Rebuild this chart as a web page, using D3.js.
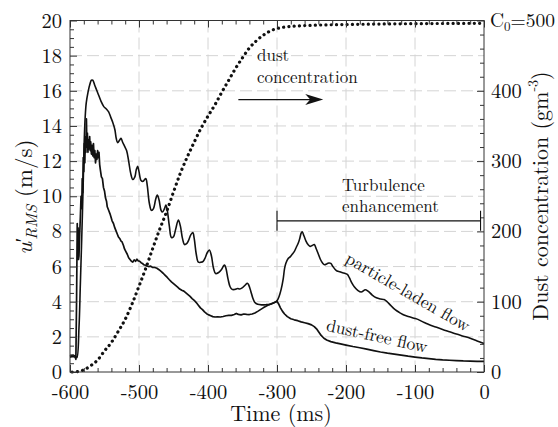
<!DOCTYPE html>
<html><head><meta charset="utf-8">
<script src="https://cdn.jsdelivr.net/npm/d3@7"></script>
<style>
body{margin:0;background:#fff}
svg{display:block}
</style>
</head><body>
<svg id="c" width="558" height="427"></svg>
<script>
// ---------- data ----------
const xTicks = [-600,-500,-400,-300,-200,-100,0];
const yTicks = [0,2,4,6,8,10,12,14,16,18,20];
const cTicks = [0,100,200,300,400];
const cTopLabel = "500";

// particle-laden flow: [time ms, u' m/s]
const particleLaden = [
[-600,0.9],[-596,0.95],[-592,0.9],[-590,0.82],[-587,2.5],[-585,5.0],[-583,7.6],[-581,10.5],[-579.5,13.0],
[-578,14.5],[-576.5,15.3],[-574,15.9],[-571,16.4],[-569,16.6],[-567,16.6],[-564,16.3],[-561,16.0],[-558,15.7],
[-555,15.4],[-551,15.1],[-547,14.95],[-544,14.8],[-541,14.5],[-538,14.2],[-535,13.8],[-533,13.3],[-531,13.05],
[-528,13.2],[-526,13.3],[-524,13.1],[-521,12.85],[-518,12.6],[-515,12.0],[-512,11.3],[-509,10.95],[-506,11.1],
[-504,11.5],[-502,11.7],[-500,11.4],[-497,10.9],[-494,10.85],[-492,10.95],[-490,11.0],[-488,10.6],[-485,9.6],
[-482,9.2],[-479,9.3],[-476,9.8],[-473.5,10.07],[-471,9.8],[-468,9.2],[-466,9.1],[-463,9.3],[-461,9.5],[-459,9.2],
[-456,8.3],[-453,7.65],[-450,7.7],[-447,8.1],[-443,8.65],[-440,8.3],[-437,7.6],[-434,7.25],[-431,7.3],[-428,7.5],
[-425,7.8],[-422,7.93],[-420,7.6],[-417,6.7],[-414,6.25],[-410,6.25],[-407,6.3],[-404,6.5],[-401,6.8],[-398,6.94],
[-395,6.6],[-392,5.9],[-389,5.6],[-385,5.65],[-381,5.8],[-378,6.0],[-376,6.09],[-374,5.9],[-371,5.3],[-368,4.85],
[-365,4.7],[-361,4.7],[-357,4.75],[-354,4.72],[-350,4.8],[-346,4.95],[-343,5.05],[-341,4.95],[-338,4.6],[-335,4.2],
[-332,3.95],[-328,3.85],[-322,3.82],[-316,3.83],[-310,3.86],[-305,3.93],[-302,3.98],[-300,4.05],[-297,4.3],
[-294,4.7],[-291,5.3],[-289,5.9],[-287,6.2],[-284,6.45],[-281,6.55],[-278,6.7],[-275,6.85],[-272,7.1],[-269,7.35],
[-267,7.6],[-265,7.9],[-263.5,7.98],[-261,7.75],[-258,7.45],[-255,7.25],[-252,7.15],[-249,7.2],[-246,7.25],
[-243,7.0],[-240,6.7],[-237,6.4],[-234,6.2],[-231,6.1],[-228,6.15],[-225,6.2],[-222,6.18],[-219,6.0],[-216,5.85],
[-213,5.75],[-209,5.7],[-205,5.65],[-201,5.6],[-198,5.55],[-195,5.35],[-192,5.1],[-188,4.85],[-183,4.65],
[-178,4.55],[-172,4.68],[-168,4.6],[-162,4.38],[-156,4.22],[-150,4.15],[-145,4.12],[-141,4.02],[-136,3.82],
[-131,3.62],[-126,3.47],[-121,3.35],[-116,3.24],[-111,3.17],[-106,3.12],[-100,3.05],[-95,2.98],[-90,2.88],
[-85,2.79],[-80,2.7],[-70,2.56],[-60,2.42],[-50,2.29],[-40,2.16],[-30,2.04],[-20,1.92],[-10,1.77],[0,1.62]
];

// dust-free flow: [time ms, u' m/s]
const dustFree = [
[-600,0.85],[-596,0.88],[-592.5,0.85],[-591.5,0.72],[-590.5,4.0],[-589.5,8.45],[-589,7.0],[-588.3,8.2],[-587.7,6.4],
[-587,6.6],[-586,7.8],[-585,8.8],[-584,10.0],[-583,9.3],[-582.3,11.0],[-581.5,10.2],[-580.8,12.2],[-580,11.4],
[-579.3,13.0],[-578.5,11.9],[-577.8,13.4],[-577,12.5],[-576.2,14.4],[-575.5,12.8],[-574.8,13.6],[-574,12.5],
[-573.2,13.2],[-572.5,12.7],[-571.5,13.4],[-570.7,12.6],[-570,13.1],[-569,12.4],[-568,12.9],[-567,12.3],[-566,13.0],
[-565,12.2],[-564,12.6],[-563,11.9],[-562,12.4],[-561,12.1],[-560,12.6],[-559,12.2],[-558,12.5],[-557,11.8],
[-556,11.5],[-554.5,11.1],[-553,11.0],[-551.5,10.5],[-550,10.3],[-548.5,9.9],[-547,9.7],[-546,9.4],[-544,9.2],
[-542,9.0],[-540.5,8.8],[-539,8.6],[-537,8.45],[-535,8.2],[-533,8.0],[-531.5,7.85],[-530,7.7],[-528,7.6],
[-526,7.45],[-524.5,7.4],[-522.5,7.2],[-521,7.0],[-519,6.85],[-517,6.7],[-515,6.5],[-513,6.4],[-511,6.3],
[-509,6.25],[-507,6.38],[-505,6.3],[-503,6.42],[-501,6.32],[-499,6.3],[-497,6.22],[-495,6.18],[-493,6.1],
[-491,6.08],[-489,6.03],[-486,6.0],[-483,6.02],[-480,5.95],[-477,5.95],[-474,5.9],[-471,5.82],[-468,5.72],
[-465,5.62],[-462,5.5],[-459,5.38],[-456,5.25],[-453,5.13],[-450,5.03],[-447,4.93],[-444,4.83],[-441,4.72],
[-438,4.65],[-435,4.6],[-432,4.5],[-429,4.4],[-426,4.3],[-423,4.18],[-420,4.08],[-417,3.95],[-414,3.8],
[-411,3.65],[-408,3.55],[-405,3.42],[-402,3.32],[-399,3.25],[-396,3.2],[-393,3.15],[-390,3.13],[-386,3.14],
[-382,3.13],[-378,3.16],[-374,3.2],[-370,3.22],[-366,3.22],[-362,3.27],[-359,3.33],[-356,3.28],[-352,3.25],
[-348,3.3],[-344,3.28],[-340,3.27],[-336,3.3],[-332,3.36],[-328,3.45],[-324,3.55],[-320,3.65],[-316,3.74],
[-312,3.82],[-308,3.88],[-304,3.95],[-300,4.02],[-298,3.9],[-295,3.65],[-292,3.45],[-289,3.3],[-285,3.15],
[-280,3.03],[-275,2.97],[-270,2.92],[-265,2.85],[-260,2.8],[-255,2.75],[-250,2.68],[-246,2.58],[-242,2.42],
[-239,2.25],[-236,2.08],[-232,1.92],[-228,1.82],[-222,1.73],[-215,1.66],[-208,1.6],[-200,1.53],[-190,1.45],
[-180,1.38],[-170,1.3],[-160,1.22],[-150,1.14],[-140,1.07],[-130,1.02],[-120,0.96],[-110,0.9],[-100,0.85],
[-90,0.8],[-80,0.76],[-70,0.72],[-60,0.69],[-50,0.67],[-40,0.65],[-30,0.63],[-20,0.62],[-10,0.61],[0,0.6]
];

// dust concentration: [time ms, g/m^3]
const dustConc = [
[-597,0],[-590,0.5],[-580,3],[-570,9],[-560,17],[-550,30],[-540,42],[-530,58],[-520,75],[-510,97],[-500,122],
[-490,148],[-480,176],[-470,203],[-460,228],[-450,256],[-440,283],[-430,306],[-420,327],[-410,347],[-400,364],
[-390,380],[-380,398],[-370,415],[-360,432],[-350,447],[-340,461],[-330,471],[-320,479],[-310,485],[-300,488.5],
[-290,490.5],[-270,492.3],[-250,493.2],[-200,494.3],[-150,495],[-100,495.5],[-50,495.8],[-2,496]
];

// ---------- layout ----------
const FONT = '"Latin Modern Roman"';
const L = 70, R = 484, T = 20.5, B = 372;
const svg = d3.select("#c");
const x = d3.scaleLinear().domain([-600,0]).range([L,R]);
const y = d3.scaleLinear().domain([0,20]).range([B,T]);
const yC = d3.scaleLinear().domain([0,500]).range([B,T]);

function txt(sel){ return sel.style("font-family", FONT).attr("fill","#111"); }

// grid
const grid = svg.append("g").attr("stroke","#d4d4d4").attr("stroke-width",1).attr("stroke-dasharray","12,5");
xTicks.slice(1,-1).forEach(t=>grid.append("line").attr("x1",x(t)).attr("x2",x(t)).attr("y1",T).attr("y2",B));
yTicks.slice(1,-1).forEach(v=>grid.append("line").attr("x1",L).attr("x2",R).attr("y1",y(v)).attr("y2",y(v)));

// curves
svg.append("path").datum(dustConc)
  .attr("d", d3.line().x(d=>x(d[0])).y(d=>yC(d[1])).curve(d3.curveMonotoneX))
  .attr("fill","none").attr("stroke","#111").attr("stroke-width",3.2)
  .attr("stroke-linecap","round").attr("stroke-dasharray","0.1,5.2");

svg.append("path").datum(dustFree)
  .attr("d", d3.line().x(d=>x(d[0])).y(d=>y(d[1])))
  .attr("fill","none").attr("stroke","#111").attr("stroke-width",1.7).attr("stroke-linejoin","round");

svg.append("path").datum(particleLaden)
  .attr("d", d3.line().x(d=>x(d[0])).y(d=>y(d[1])).curve(d3.curveCatmullRom.alpha(0.5)))
  .attr("fill","none").attr("stroke","#111").attr("stroke-width",1.6).attr("stroke-linejoin","round");

// axes
function styleAxis(g){ g.select(".domain").remove(); g.selectAll("line").attr("stroke","#333");
  g.selectAll("text").style("font-family", FONT).attr("font-size",20.5).attr("fill","#111"); }

const minorX = d3.range(-600,1,20).filter(v=>v%100!==0);
const minorY = d3.range(0,20.01,0.5).filter(v=>v%2!==0);
const minorC = d3.range(0,501,20).filter(v=>v%100!==0);

svg.append("g").attr("transform",`translate(0,${B})`)
  .call(d3.axisBottom(x).tickValues(xTicks).tickSize(-7).tickPadding(12).tickFormat(d=>String(d))).call(styleAxis);
svg.append("g").attr("transform",`translate(0,${B})`)
  .call(d3.axisBottom(x).tickValues(minorX).tickSize(-4).tickFormat(()=>"")).call(styleAxis);
svg.append("g").attr("transform",`translate(0,${T})`)
  .call(d3.axisTop(x).tickValues(xTicks).tickSize(-7).tickFormat(()=>"")).call(styleAxis);
svg.append("g").attr("transform",`translate(0,${T})`)
  .call(d3.axisTop(x).tickValues(minorX).tickSize(-4).tickFormat(()=>"")).call(styleAxis);

svg.append("g").attr("transform",`translate(${L},0)`)
  .call(d3.axisLeft(y).tickValues(yTicks).tickSize(-7).tickPadding(8).tickFormat(d=>String(d))).call(styleAxis);
svg.append("g").attr("transform",`translate(${L},0)`)
  .call(d3.axisLeft(y).tickValues(minorY).tickSize(-4).tickFormat(()=>"")).call(styleAxis);

svg.append("g").attr("transform",`translate(${R},0)`)
  .call(d3.axisRight(yC).tickValues(cTicks.concat([500])).tickSize(-7).tickPadding(7)
    .tickFormat(d=>d===500?"":String(d))).call(styleAxis);
svg.append("g").attr("transform",`translate(${R},0)`)
  .call(d3.axisRight(yC).tickValues(minorC).tickSize(-4).tickFormat(()=>"")).call(styleAxis);

// frame
svg.append("rect").attr("x",L).attr("y",T).attr("width",R-L).attr("height",B-T)
  .attr("fill","none").attr("stroke","#333").attr("stroke-width",1);

// C0=500 label
const c0 = txt(svg.append("text")).attr("x",R+6).attr("y",yC(500)).attr("dy","0.32em").attr("font-size",19.5);
c0.append("tspan").text("C");
c0.append("tspan").attr("font-size",13).attr("dy",4).text("0");
c0.append("tspan").attr("dy",-4).text("=" + cTopLabel);

// axis titles
txt(svg.append("text")).attr("x",(L+R)/2+4).attr("y",421).attr("text-anchor","middle").attr("font-size",22).text("Time (ms)");

const yl = txt(svg.append("text")).attr("transform","translate(32,197) rotate(-90)").attr("text-anchor","middle").attr("font-size",23);
yl.append("tspan").attr("font-style","italic").text("u");
yl.append("tspan").style("font-family",'"Liberation Serif"').attr("font-size",20).attr("dy",-2).text("′");
yl.append("tspan").attr("font-style","italic").attr("font-size",16).attr("dy",7).attr("dx",-2).text("RMS");
yl.append("tspan").attr("dy",-5).text(" (m/s)");

const yr = txt(svg.append("text")).attr("transform","translate(548,196) rotate(-90)").attr("text-anchor","middle").attr("font-size",22);
yr.append("tspan").text("Dust concentration (gm");
yr.append("tspan").attr("font-size",14).attr("dy",-10).text("-3");
yr.append("tspan").attr("dy",10).text(")");

// annotations
txt(svg.append("text")).attr("font-size",17).attr("x",257).attr("y",61).text("dust");
txt(svg.append("text")).attr("font-size",17).attr("x",257).attr("y",83).text("concentration");
const ay = y(15.5);
const ax = x(-233);
svg.append("line").attr("x1",x(-356)).attr("x2",ax-12).attr("y1",ay).attr("y2",ay).attr("stroke","#111").attr("stroke-width",1.3);
svg.append("path").attr("d",`M${ax},${ay} L${ax-18},${ay-5.5} L${ax-13},${ay} L${ax-18},${ay+5.5} Z`).attr("fill","#111");

txt(svg.append("text")).attr("font-size",17).attr("x",342).attr("y",191).text("Turbulence");
txt(svg.append("text")).attr("font-size",17).attr("x",342).attr("y",212).text("enhancement");
const by = y(8.6);
const br = svg.append("g").attr("stroke","#111").attr("stroke-width",1.1);
br.append("line").attr("x1",x(-300)).attr("x2",x(-5)).attr("y1",by).attr("y2",by);
br.append("line").attr("x1",x(-300)).attr("x2",x(-300)).attr("y1",by-10).attr("y2",by+10);
br.append("line").attr("x1",x(-5)).attr("x2",x(-5)).attr("y1",by-10).attr("y2",by+10);

txt(svg.append("text")).attr("transform","translate(408,292) rotate(30)").attr("text-anchor","middle")
  .attr("dy","0.33em").attr("font-size",17.5).text("particle-laden flow");
txt(svg.append("text")).attr("transform","translate(377,336) rotate(12.5)").attr("text-anchor","middle")
  .attr("dy","0.33em").attr("font-size",17.5).text("dust-free flow");
</script>
</body></html>
